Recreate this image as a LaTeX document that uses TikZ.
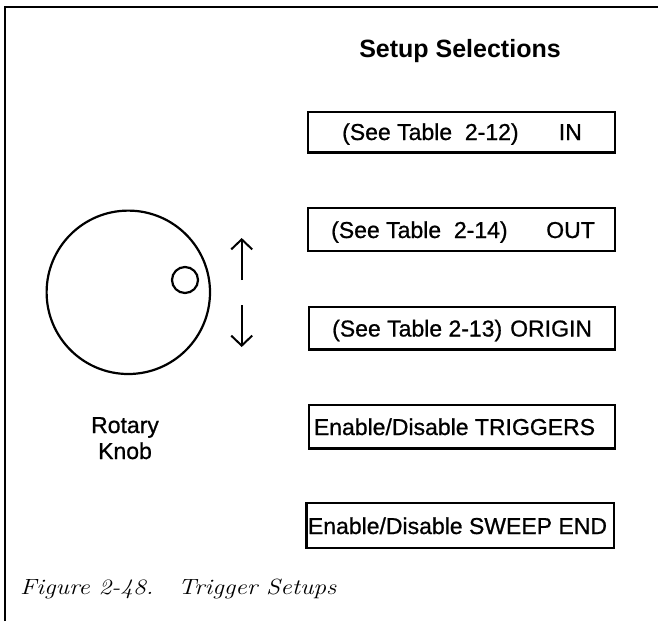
\documentclass[tikz,border=0pt]{standalone}
\usepackage{fontspec}
\setsansfont{Liberation Sans}
\newfontfamily\scanfont[FakeBold=0.8]{Liberation Sans}
\usetikzlibrary{arrows.meta}
\begin{document}
\begin{tikzpicture}[x=1pt,y=-1pt,
  frame/.style={line width=2.6pt},
  selbox/.style={draw, line width=2.3pt, inner sep=0pt},
  lbl/.style={font=\scanfont\fontsize{23}{27}\selectfont, inner sep=0pt},
  ttl/.style={font=\sffamily\bfseries\fontsize{25}{30}\selectfont, inner sep=0pt},
  figcaption/.style={font=\rmfamily\itshape\fontsize{22}{26}\selectfont, inner sep=0pt},
  ring/.style={draw, circle, line width=2.2pt, inner sep=0pt},
  arr/.style={line width=2pt, -{Straight Barb[length=10pt,width=21pt,line width=2pt]}}]
\useasboundingbox (0,0) rectangle (658,621);
% frame
\coordinate (fb) at (5,621);
\coordinate (fc) at (5,7);
\coordinate (fr) at (658,7);
\draw[frame] (fb) -- (fc) -- (fr);
% title
\node[ttl, anchor=base] (title) at (460,57) {Setup Selections};
% boxes
\node[selbox, minimum width=307pt, minimum height=40.5pt] (b1) at (461.5,132.25) {};
\node[selbox, minimum width=307pt, minimum height=43pt] (b2) at (461.5,229.5) {};
\node[selbox, minimum width=306pt, minimum height=42.5pt] (b3) at (462,328.25) {};
\node[selbox, minimum width=306pt, minimum height=43.5pt] (b4) at (462,426.75) {};
\node[selbox, minimum width=307.5pt, minimum height=45pt] (b5) at (460.25,525.5) {};
% box texts
\node[lbl, anchor=base west] (t1a) at (342,140) {(See Table\ \ 2-12)};
\node[lbl, anchor=base east] (t1b) at (582,140) {IN};
\node[lbl, anchor=base west] (t2a) at (331,238) {(See Table\ \ 2-14)};
\node[lbl, anchor=base east] (t2b) at (595,238) {OUT};
\node[lbl, anchor=base west] (t3a) at (332,336.5) {(See Table 2-13)};
\node[lbl, anchor=base west] (t3b) at (510,336.5) {ORIGIN};
\node[lbl, anchor=base] (t4) at (454.5,435) {Enable/Disable TRIGGERS};
\node[lbl, anchor=base] (t5) at (457.5,534) {Enable/Disable SWEEP END};
% knob
\node[ring, minimum size=163.4pt] (knob) at (128.3,292.3) {};
\node[ring, minimum size=26pt] (dot) at (185,280) {};
\node[lbl, anchor=base] (rot) at (125,433) {Rotary};
\node[lbl, anchor=base] (knb) at (125,459) {Knob};
% arrows
\coordinate (ua) at (241.7,280);
\coordinate (ub) at (241.7,238);
\coordinate (da) at (241.7,305);
\coordinate (db) at (241.7,347);
\draw[arr] (ua) -- (ub);
\draw[arr] (da) -- (db);
% caption
\node[figcaption, anchor=base west] (caption) at (20,594)
  {\scalebox{1.16}[1]{\makebox[136.2pt][l]{Figure 2-48.}Trigger Setups}};
\end{tikzpicture}
\end{document}
